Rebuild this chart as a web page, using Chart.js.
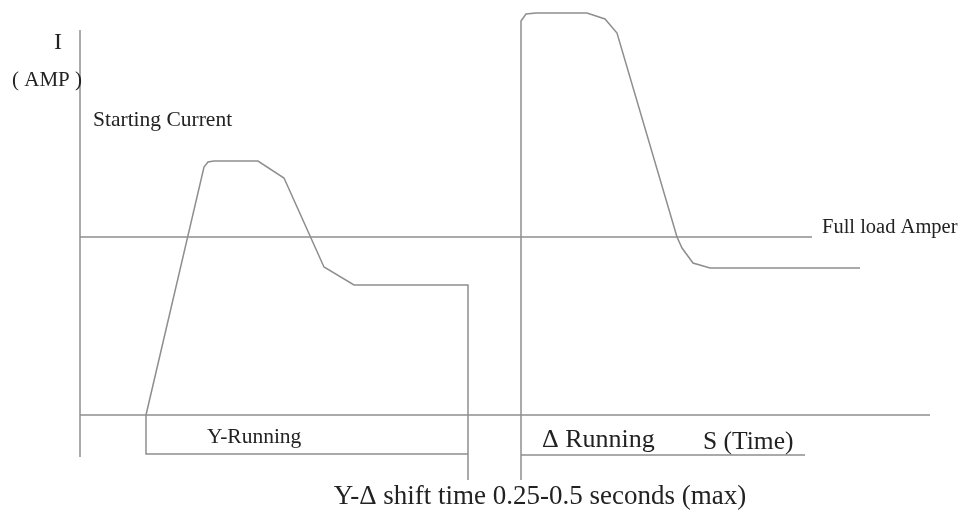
<!DOCTYPE html>
<html>
<head>
<meta charset="utf-8">
<title>Y-Δ starting current</title>
<script src="https://cdn.jsdelivr.net/npm/chart.js@4.4.1/dist/chart.umd.min.js"></script>
<style>
  html, body { margin: 0; padding: 0; background: #fff; }
  #wrap { width: 960px; height: 515px; }
</style>
</head>
<body>
<div id="wrap"><canvas id="starChart"></canvas></div>
<script>
// time (arbitrary units) / current (arbitrary units, full load ~89)
var starCurve = [
  [1.65, 0], [3.1, 124], [3.2, 126.5], [3.35, 127], [4.45, 127],
  [5.1, 118.5], [6.1, 74], [6.85, 65], [9.7, 65], [9.7, -32.5]
];
var deltaCurve = [
  [11.025, -32.5], [11.025, 197], [11.15, 200.5], [11.4, 201], [12.675, 201],
  [13.125, 198], [13.425, 191], [14.925, 89], [15.05, 83.5], [15.325, 76],
  [15.75, 73.5], [19.5, 73.5]
];
var starBracket = [[1.65, 0], [1.65, -19.5], [9.7, -19.5]];
var deltaBracket = [[11.025, -20], [18.125, -20]];
var fullLoadLine = [[0, 89], [18.3, 89]];
var timeAxis = [[0, 0], [21.25, 0]];
var currentAxis = [[0, -21], [0, 192.5]];

function pts(arr) {
  return arr.map(function (p) { return { x: p[0], y: p[1] }; });
}

var lineColor = '#8e8e8e';
function ds(arr) {
  return {
    data: pts(arr),
    showLine: true,
    borderColor: lineColor,
    borderWidth: 1.5,
    pointRadius: 0,
    fill: false,
    tension: 0
  };
}

// text written onto the diagram at data positions
var textPlugin = {
  id: 'diagramText',
  afterDatasetsDraw: function (chart) {
    var c = chart.ctx, xs = chart.scales.x, ys = chart.scales.y;
    function put(txt, t, i, size, align) {
      c.save();
      c.font = size + 'px "Liberation Serif", "DejaVu Serif", serif';
      c.fillStyle = '#222';
      c.textAlign = align || 'left';
      c.textBaseline = 'middle';
      c.fillText(txt, xs.getPixelForValue(t), ys.getPixelForValue(i));
      c.restore();
    }
    put('I', -0.65, 186, 24);
    put('( AMP )', -1.7, 167.5, 21);
    put('Starting Current', 0.325, 147.5, 21.5);
    put('Full load Amper', 18.55, 93.5, 20.5);
    put('Y-Running', 3.175, -11, 21.5);
    put('\u0394 Running', 11.55, -12.5, 26);
    put('S (Time)', 15.575, -13.5, 25.5);
    put('Y-\u0394 shift time 0.25-0.5 seconds (max)', 11.5, -41, 27, 'center');
  }
};

new Chart(document.getElementById('starChart').getContext('2d'), {
  type: 'scatter',
  data: {
    datasets: [
      ds(currentAxis), ds(timeAxis), ds(fullLoadLine),
      ds(starCurve), ds(starBracket), ds(deltaCurve), ds(deltaBracket)
    ]
  },
  options: {
    responsive: true,
    maintainAspectRatio: false,
    animation: false,
    layout: { padding: 0 },
    plugins: { legend: { display: false }, tooltip: { enabled: false } },
    scales: {
      x: { type: 'linear', min: -2, max: 22, display: false },
      y: { type: 'linear', min: -50, max: 207.5, display: false }
    }
  },
  plugins: [textPlugin]
});
</script>
</body>
</html>
